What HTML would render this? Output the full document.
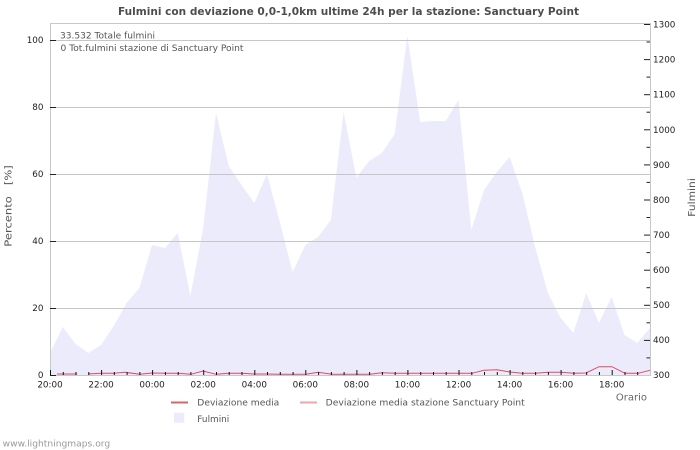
<!DOCTYPE html>
<html>
<head>
<meta charset="utf-8">
<style>
html,body{margin:0;padding:0;background:#fff;}
svg{display:block;}
text{font-family:"DejaVu Sans","Liberation Sans",sans-serif;}
</style>
</head>
<body>
<svg width="700" height="450" viewBox="0 0 700 450" xmlns="http://www.w3.org/2000/svg">
<rect x="0" y="0" width="700" height="450" fill="#fff"/>
<!-- title -->
<text x="118" y="15" font-size="10.5" font-weight="bold" fill="#4d4d4d" textLength="461" lengthAdjust="spacingAndGlyphs">Fulmini con deviazione 0,0-1,0km ultime 24h per la stazione: Sanctuary Point</text>

<!-- area -->
<polygon fill="#ebebfc" points="50,375 50.0,353 62.8,327 75.5,344 88.3,353 101.1,345 113.8,326 126.6,303 139.4,288 152.1,245 164.9,248 177.7,233 190.4,296 203.2,228 216.0,113 228.7,166 241.5,185 254.3,203 267.0,174 279.8,222 292.6,272 305.3,245 318.1,237 330.9,220 343.6,112 356.4,178 369.1,161 381.9,153 394.7,134 407.4,36 420.2,122 433.0,121 445.7,121 458.5,100 471.3,230 484.0,190 496.8,172 509.6,157 522.3,193 535.1,247 547.9,293 560.6,318 573.4,333 586.2,293 598.9,323 611.7,297 624.5,335 637.2,343 650,328 650,375"/>

<!-- gridlines -->
<g stroke="#c6c6c6" stroke-width="1">
<line x1="50" y1="40.5" x2="650" y2="40.5"/>
<line x1="50" y1="107.5" x2="650" y2="107.5"/>
<line x1="50" y1="174.5" x2="650" y2="174.5"/>
<line x1="50" y1="241.5" x2="650" y2="241.5"/>
<line x1="50" y1="308.5" x2="650" y2="308.5"/>
</g>
<!-- frame -->
<g stroke="#c8c8c8" stroke-width="1" fill="none">
<rect x="50.5" y="23.5" width="600" height="352"/>
</g>

<!-- left ticks -->
<g stroke="#222" stroke-width="1">
<line x1="50" y1="375.5" x2="56" y2="375.5"/>
<line x1="50" y1="308.5" x2="56" y2="308.5"/>
<line x1="50" y1="241.5" x2="56" y2="241.5"/>
<line x1="50" y1="174.5" x2="56" y2="174.5"/>
<line x1="50" y1="107.5" x2="56" y2="107.5"/>
<line x1="50" y1="40.5" x2="56" y2="40.5"/>
</g>
<!-- right ticks -->
<g stroke="#222" stroke-width="1">
<line x1="644" y1="24.5" x2="650" y2="24.5"/>
<line x1="644" y1="59.6" x2="650" y2="59.6"/>
<line x1="644" y1="94.7" x2="650" y2="94.7"/>
<line x1="644" y1="129.8" x2="650" y2="129.8"/>
<line x1="644" y1="164.9" x2="650" y2="164.9"/>
<line x1="644" y1="200" x2="650" y2="200"/>
<line x1="644" y1="235.1" x2="650" y2="235.1"/>
<line x1="644" y1="270.2" x2="650" y2="270.2"/>
<line x1="644" y1="305.3" x2="650" y2="305.3"/>
<line x1="644" y1="340.4" x2="650" y2="340.4"/>
<line x1="646.5" y1="42" x2="650" y2="42"/>
<line x1="646.5" y1="77.1" x2="650" y2="77.1"/>
<line x1="646.5" y1="112.2" x2="650" y2="112.2"/>
<line x1="646.5" y1="147.3" x2="650" y2="147.3"/>
<line x1="646.5" y1="182.4" x2="650" y2="182.4"/>
<line x1="646.5" y1="217.5" x2="650" y2="217.5"/>
<line x1="646.5" y1="252.6" x2="650" y2="252.6"/>
<line x1="646.5" y1="287.7" x2="650" y2="287.7"/>
<line x1="646.5" y1="322.8" x2="650" y2="322.8"/>
<line x1="646.5" y1="357.9" x2="650" y2="357.9"/>
</g>

<!-- red line -->
<path fill="none" stroke="#dd4d5e" stroke-width="1" d="M57,374 L77,374 M88,374 L101,373.3 L114,373.3 L125,372.3 L140,374.3 L152,373 L165,373.3 L178,373.3 L191,374.3 L203,371 L216,374.3 L229,373.3 L242,373.3 L254,374 L267,374 L280,374.3 L293,374.3 L306,374.3 L318,372.3 L332,374.3 L344,374.3 L357,374.3 L370,374.3 L382,372.7 L395,373.3 L408,373.3 L421,373.3 L433,373.3 L446,373.3 L459,373.3 L472,373.3 L484,370.3 L497,369.7 L510,372 L522,373.3 L535,373.3 L548,372.3 L561,372.3 L574,373.3 L586,373 L599,366.7 L612,366.7 L625,373.3 L638,373.3 L650,370.3"/>

<!-- x ticks -->
<g stroke="#111" stroke-width="1">
<line x1="50.5" y1="370" x2="50.5" y2="375"/>
<line x1="63.3" y1="372" x2="63.3" y2="375"/>
<line x1="76" y1="372" x2="76" y2="375"/>
<line x1="88.8" y1="372" x2="88.8" y2="375"/>
<line x1="101.6" y1="370" x2="101.6" y2="375"/>
<line x1="114.3" y1="372" x2="114.3" y2="375"/>
<line x1="127.1" y1="372" x2="127.1" y2="375"/>
<line x1="139.9" y1="372" x2="139.9" y2="375"/>
<line x1="152.6" y1="370" x2="152.6" y2="375"/>
<line x1="165.4" y1="372" x2="165.4" y2="375"/>
<line x1="178.2" y1="372" x2="178.2" y2="375"/>
<line x1="190.9" y1="372" x2="190.9" y2="375"/>
<line x1="203.7" y1="370" x2="203.7" y2="375"/>
<line x1="216.5" y1="372" x2="216.5" y2="375"/>
<line x1="229.2" y1="372" x2="229.2" y2="375"/>
<line x1="242" y1="372" x2="242" y2="375"/>
<line x1="254.8" y1="370" x2="254.8" y2="375"/>
<line x1="267.5" y1="372" x2="267.5" y2="375"/>
<line x1="280.3" y1="372" x2="280.3" y2="375"/>
<line x1="293.1" y1="372" x2="293.1" y2="375"/>
<line x1="305.8" y1="370" x2="305.8" y2="375"/>
<line x1="318.6" y1="372" x2="318.6" y2="375"/>
<line x1="331.4" y1="372" x2="331.4" y2="375"/>
<line x1="344.1" y1="372" x2="344.1" y2="375"/>
<line x1="356.9" y1="370" x2="356.9" y2="375"/>
<line x1="369.6" y1="372" x2="369.6" y2="375"/>
<line x1="382.4" y1="372" x2="382.4" y2="375"/>
<line x1="395.2" y1="372" x2="395.2" y2="375"/>
<line x1="407.9" y1="370" x2="407.9" y2="375"/>
<line x1="420.7" y1="372" x2="420.7" y2="375"/>
<line x1="433.5" y1="372" x2="433.5" y2="375"/>
<line x1="446.2" y1="372" x2="446.2" y2="375"/>
<line x1="459" y1="370" x2="459" y2="375"/>
<line x1="471.8" y1="372" x2="471.8" y2="375"/>
<line x1="484.5" y1="372" x2="484.5" y2="375"/>
<line x1="497.3" y1="372" x2="497.3" y2="375"/>
<line x1="510.1" y1="370" x2="510.1" y2="375"/>
<line x1="522.8" y1="372" x2="522.8" y2="375"/>
<line x1="535.6" y1="372" x2="535.6" y2="375"/>
<line x1="548.4" y1="372" x2="548.4" y2="375"/>
<line x1="561.1" y1="370" x2="561.1" y2="375"/>
<line x1="573.9" y1="372" x2="573.9" y2="375"/>
<line x1="586.7" y1="372" x2="586.7" y2="375"/>
<line x1="599.4" y1="372" x2="599.4" y2="375"/>
<line x1="612.2" y1="370" x2="612.2" y2="375"/>
<line x1="625" y1="372" x2="625" y2="375"/>
<line x1="637.7" y1="372" x2="637.7" y2="375"/>
</g>

<!-- info text -->
<text x="60" y="38.3" font-size="8.5" fill="#555" textLength="95" lengthAdjust="spacingAndGlyphs">33.532 Totale fulmini</text>
<text x="60.5" y="51" font-size="8.5" fill="#555" textLength="183" lengthAdjust="spacingAndGlyphs">0 Tot.fulmini stazione di Sanctuary Point</text>

<!-- left labels -->
<g font-size="8.8" fill="#222" text-anchor="end">
<text x="43.5" y="378">0</text>
<text x="43.5" y="311">20</text>
<text x="43.5" y="244">40</text>
<text x="43.5" y="177">60</text>
<text x="43.5" y="110">80</text>
<text x="43.5" y="43">100</text>
</g>
<!-- right labels -->
<g font-size="8.8" fill="#222">
<text x="653" y="378">300</text>
<text x="653" y="343">400</text>
<text x="653" y="308">500</text>
<text x="653" y="273">600</text>
<text x="653" y="238">700</text>
<text x="653" y="203">800</text>
<text x="653" y="168">900</text>
<text x="653" y="133">1000</text>
<text x="653" y="97.7">1100</text>
<text x="653" y="62.6">1200</text>
<text x="653" y="27.5">1300</text>
</g>
<!-- x labels -->
<g font-size="8.8" fill="#222" text-anchor="middle">
<text x="50" y="387.3">20:00</text>
<text x="101.1" y="387.3">22:00</text>
<text x="152.1" y="387.3">00:00</text>
<text x="203.2" y="387.3">02:00</text>
<text x="254.3" y="387.3">04:00</text>
<text x="305.3" y="387.3">06:00</text>
<text x="356.4" y="387.3">08:00</text>
<text x="407.4" y="387.3">10:00</text>
<text x="458.5" y="387.3">12:00</text>
<text x="509.6" y="387.3">14:00</text>
<text x="560.6" y="387.3">16:00</text>
<text x="611.7" y="387.3">18:00</text>
</g>
<text x="647" y="400.7" font-size="10" fill="#666" text-anchor="end">Orario</text>

<!-- axis titles -->
<text transform="translate(11.7,246.7) rotate(-90)" font-size="10" fill="#555" textLength="81.5" lengthAdjust="spacingAndGlyphs" xml:space="preserve">Percento   [%]</text>
<text transform="translate(695,216.7) rotate(-90)" font-size="10" fill="#555" textLength="38.5" lengthAdjust="spacingAndGlyphs">Fulmini</text>

<!-- legend -->
<line x1="171" y1="402.5" x2="188" y2="402.5" stroke="#e0606a" stroke-width="2"/>
<text x="197.3" y="405.7" font-size="9" fill="#555" textLength="82" lengthAdjust="spacingAndGlyphs">Deviazione media</text>
<line x1="300" y1="402.5" x2="317" y2="402.5" stroke="#f5a3a3" stroke-width="2"/>
<text x="325.7" y="405.7" font-size="9" fill="#555" textLength="199" lengthAdjust="spacingAndGlyphs">Deviazione media stazione Sanctuary Point</text>
<rect x="174" y="412.7" width="10.3" height="10" fill="#ebebfc"/>
<text x="197.3" y="422" font-size="9" fill="#555" textLength="32" lengthAdjust="spacingAndGlyphs">Fulmini</text>

<!-- footer -->
<text x="2.7" y="446.3" font-size="9" fill="#999" textLength="107.5" lengthAdjust="spacingAndGlyphs">www.lightningmaps.org</text>
</svg>
</body>
</html>
